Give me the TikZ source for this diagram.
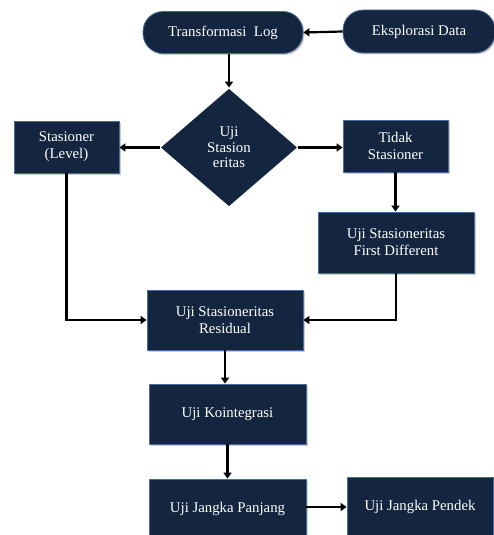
\documentclass[tikz,border=0pt]{standalone}
\usepackage{fontspec}
\setmainfont{Liberation Serif}
\usetikzlibrary{shapes.geometric,arrows.meta,shadows}
\definecolor{navy}{HTML}{14263F}
\definecolor{edge}{HTML}{4A6E9C}
\tikzset{
  box/.style={rectangle, fill=navy, draw=edge, line width=0.8pt, text=white,
    align=center, inner sep=2pt, font=\fontsize{14.8}{17}\selectfont,
    drop shadow={shadow xshift=1.5pt, shadow yshift=-1.5pt, fill=black!50, opacity=0.4}},
  pill/.style={box, rounded corners=20pt},
  dia/.style={diamond, fill=navy, draw=white, line width=0.8pt, text=white,
    align=center, inner sep=0pt, minimum width=138pt, minimum height=119pt,
    font=\fontsize{14.8}{15.5}\selectfont},
  conn/.style={draw=black, line width=2.2pt, -{Triangle[length=6pt,width=8pt]}},
  seg/.style={draw=black, line width=2.2pt}
}
\begin{document}
\begin{tikzpicture}[x=1pt,y=-1pt]
\useasboundingbox (0,0) rectangle (494,535);
\node[pill, minimum width=160pt, minimum height=42pt] (trans) at (223,32.5) {Transformasi\ \ Log};
\node[pill, minimum width=152pt, minimum height=43pt] (eks) at (419,31.5) {Eksplorasi Data};
\node[dia] (uji) at (229,147.5) {Uji\\Stasion\\eritas};
\node[box, minimum width=105pt, minimum height=52pt] (stas) at (66.5,147) {Stasioner\\(Level)};
\node[box, minimum width=105pt, minimum height=52pt] (tidak) at (395.5,146) {Tidak\\Stasioner};
\node[box, minimum width=156pt, minimum height=61pt] (fd) at (396,242.5) {Uji Stasioneritas\\First Different};
\node[box, minimum width=156pt, minimum height=60pt] (res) at (225,320) {Uji Stasioneritas\\Residual};
\node[box, minimum width=157pt, minimum height=60pt] (koin) at (227.5,414) {Uji Kointegrasi};
\node[box, minimum width=157pt, minimum height=60pt] (panj) at (227.5,509) {Uji Jangka Panjang};
\node[box, minimum width=146pt, minimum height=60pt] (pend) at (420,507) {Uji Jangka Pendek};
\draw[conn] (eks.west) -- (trans.east);
\draw[conn] (trans.south -| uji.north) -- (uji.north);
\draw[conn] (uji.west) -- (stas.east |- uji.west);
\draw[conn] (uji.east) -- (tidak.west |- uji.east);
\draw[conn] (tidak.south) -- (fd.north -| tidak.south);
\draw[conn] (stas.south) |- (res.west);
\draw[conn] (fd.south) |- (res.east);
\draw[conn] (res.south) -- (res.south |- koin.north);
\draw[conn] (koin.south) -- (panj.north);
\draw[conn] (panj.east |- pend.west) -- (pend.west);
\end{tikzpicture}
\end{document}
